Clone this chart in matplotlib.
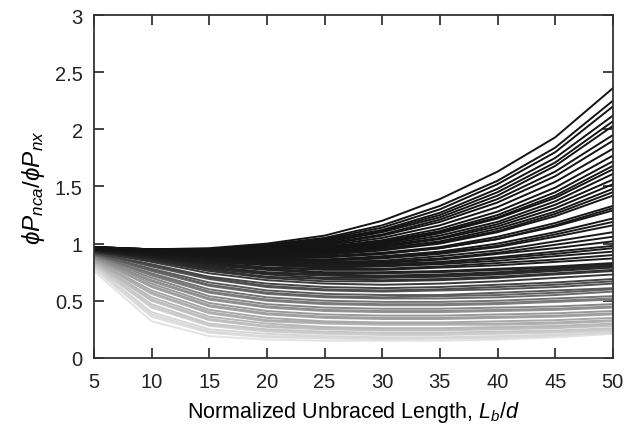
import matplotlib
matplotlib.use("Agg")
import matplotlib.pyplot as plt

plt.rcParams["font.family"] = ["Liberation Sans", "DejaVu Sans"]
plt.rcParams["mathtext.fontset"] = "custom"
plt.rcParams["mathtext.rm"] = "Liberation Sans"
plt.rcParams["mathtext.it"] = "Liberation Sans:italic"

lb_d = [5, 10, 15, 20, 25, 30, 35, 40, 45, 50]

# curves, top (black) to bottom (light gray)
dark_curves = [
    [0.97, 0.95, 0.96, 1.00, 1.07, 1.20, 1.39, 1.63, 1.93, 2.36],
    [0.97, 0.95, 0.95, 0.99, 1.05, 1.16, 1.33, 1.55, 1.84, 2.25],
    [0.97, 0.95, 0.95, 0.98, 1.04, 1.14, 1.30, 1.52, 1.80, 2.20],
    [0.97, 0.95, 0.95, 0.98, 1.03, 1.12, 1.27, 1.48, 1.75, 2.12],
    [0.97, 0.95, 0.94, 0.97, 1.02, 1.11, 1.25, 1.45, 1.71, 2.07],
    [0.97, 0.94, 0.94, 0.96, 1.01, 1.10, 1.23, 1.42, 1.68, 2.03],
    [0.96, 0.94, 0.93, 0.95, 1.00, 1.08, 1.21, 1.39, 1.63, 1.95],
    [0.96, 0.94, 0.93, 0.95, 0.99, 1.07, 1.19, 1.36, 1.59, 1.90],
    [0.96, 0.94, 0.93, 0.94, 0.98, 1.05, 1.16, 1.32, 1.54, 1.83],
    [0.96, 0.94, 0.92, 0.93, 0.97, 1.03, 1.13, 1.28, 1.49, 1.77],
    [0.96, 0.93, 0.92, 0.93, 0.96, 1.02, 1.11, 1.25, 1.45, 1.72],
    [0.96, 0.93, 0.92, 0.92, 0.95, 1.01, 1.10, 1.23, 1.42, 1.68],
    [0.96, 0.93, 0.91, 0.92, 0.95, 1.00, 1.09, 1.22, 1.40, 1.65],
    [0.96, 0.93, 0.91, 0.91, 0.94, 0.99, 1.07, 1.19, 1.37, 1.61],
    [0.96, 0.93, 0.90, 0.90, 0.93, 0.98, 1.05, 1.17, 1.34, 1.56],
    [0.96, 0.93, 0.90, 0.90, 0.92, 0.97, 1.04, 1.15, 1.31, 1.52],
    [0.96, 0.92, 0.90, 0.89, 0.91, 0.96, 1.02, 1.13, 1.28, 1.48],
    [0.96, 0.92, 0.89, 0.89, 0.91, 0.95, 1.01, 1.11, 1.26, 1.45],
    [0.96, 0.92, 0.89, 0.88, 0.90, 0.94, 1.00, 1.10, 1.24, 1.42],
    [0.95, 0.92, 0.89, 0.87, 0.89, 0.92, 0.97, 1.06, 1.18, 1.33],
    [0.95, 0.92, 0.88, 0.87, 0.88, 0.91, 0.96, 1.04, 1.16, 1.31],
    [0.95, 0.92, 0.88, 0.87, 0.88, 0.91, 0.96, 1.04, 1.15, 1.29],
    [0.95, 0.91, 0.88, 0.86, 0.86, 0.89, 0.93, 1.00, 1.10, 1.22],
    [0.95, 0.91, 0.87, 0.86, 0.86, 0.88, 0.92, 0.98, 1.08, 1.19],
    [0.95, 0.91, 0.87, 0.85, 0.85, 0.87, 0.91, 0.97, 1.06, 1.16],
    [0.95, 0.91, 0.86, 0.84, 0.84, 0.85, 0.89, 0.94, 1.02, 1.10],
    [0.95, 0.91, 0.86, 0.84, 0.83, 0.84, 0.87, 0.92, 0.99, 1.06],
    [0.95, 0.90, 0.86, 0.83, 0.82, 0.83, 0.86, 0.91, 0.96, 1.02],
    [0.95, 0.90, 0.85, 0.82, 0.81, 0.82, 0.84, 0.88, 0.93, 0.98],
    [0.95, 0.90, 0.85, 0.82, 0.80, 0.81, 0.83, 0.87, 0.91, 0.96],
    [0.95, 0.89, 0.84, 0.81, 0.79, 0.80, 0.82, 0.85, 0.89, 0.93],
    [0.94, 0.89, 0.83, 0.79, 0.78, 0.78, 0.80, 0.83, 0.86, 0.90],
    [0.94, 0.89, 0.83, 0.79, 0.77, 0.77, 0.79, 0.81, 0.84, 0.87],
    [0.94, 0.88, 0.82, 0.78, 0.75, 0.75, 0.76, 0.78, 0.80, 0.83],
    [0.94, 0.88, 0.81, 0.77, 0.74, 0.74, 0.75, 0.77, 0.79, 0.82],
    [0.94, 0.87, 0.80, 0.75, 0.73, 0.72, 0.73, 0.75, 0.78, 0.81],
    [0.94, 0.87, 0.79, 0.74, 0.72, 0.71, 0.72, 0.74, 0.77, 0.80],
    [0.94, 0.86, 0.78, 0.73, 0.70, 0.70, 0.71, 0.73, 0.76, 0.79],
    [0.93, 0.85, 0.77, 0.71, 0.69, 0.68, 0.69, 0.71, 0.74, 0.77],
    [0.93, 0.85, 0.76, 0.70, 0.67, 0.67, 0.68, 0.70, 0.73, 0.76],
    [0.93, 0.84, 0.74, 0.68, 0.65, 0.64, 0.65, 0.67, 0.70, 0.73],
]
dark_shades = [0.08, 0.08, 0.08, 0.08, 0.08, 0.08, 0.08, 0.08, 0.08, 0.08,
               0.08, 0.08, 0.08, 0.08, 0.08, 0.08, 0.09, 0.09, 0.09, 0.09,
               0.09, 0.09, 0.09, 0.10, 0.10, 0.10, 0.10, 0.10, 0.11, 0.11,
               0.11, 0.12, 0.12, 0.13, 0.14, 0.15, 0.16, 0.17, 0.19, 0.21,
               0.23]

light_curves = [
    [0.92, 0.82, 0.71, 0.65, 0.62, 0.61, 0.62, 0.64, 0.66, 0.69],
    [0.92, 0.81, 0.70, 0.63, 0.60, 0.59, 0.60, 0.62, 0.64, 0.67],
    [0.92, 0.80, 0.69, 0.62, 0.59, 0.58, 0.59, 0.60, 0.62, 0.65],
    [0.91, 0.78, 0.66, 0.59, 0.56, 0.55, 0.55, 0.57, 0.59, 0.61],
    [0.91, 0.77, 0.64, 0.57, 0.54, 0.53, 0.54, 0.55, 0.57, 0.60],
    [0.91, 0.76, 0.63, 0.56, 0.53, 0.52, 0.52, 0.53, 0.55, 0.58],
    [0.90, 0.74, 0.60, 0.53, 0.50, 0.49, 0.49, 0.50, 0.52, 0.54],
    [0.90, 0.73, 0.58, 0.51, 0.48, 0.47, 0.47, 0.48, 0.50, 0.52],
    [0.90, 0.72, 0.57, 0.50, 0.47, 0.46, 0.46, 0.47, 0.49, 0.51],
    [0.89, 0.70, 0.54, 0.47, 0.44, 0.43, 0.43, 0.44, 0.45, 0.47],
    [0.88, 0.68, 0.52, 0.45, 0.42, 0.41, 0.41, 0.42, 0.43, 0.45],
    [0.88, 0.67, 0.51, 0.44, 0.41, 0.40, 0.40, 0.41, 0.42, 0.44],
    [0.88, 0.65, 0.48, 0.41, 0.38, 0.37, 0.37, 0.38, 0.39, 0.41],
    [0.87, 0.63, 0.46, 0.39, 0.36, 0.35, 0.35, 0.36, 0.37, 0.39],
    [0.87, 0.62, 0.45, 0.38, 0.35, 0.34, 0.34, 0.35, 0.36, 0.38],
    [0.86, 0.59, 0.42, 0.35, 0.32, 0.31, 0.31, 0.32, 0.33, 0.35],
    [0.85, 0.57, 0.40, 0.33, 0.31, 0.30, 0.30, 0.30, 0.31, 0.33],
    [0.85, 0.56, 0.39, 0.32, 0.30, 0.29, 0.29, 0.29, 0.30, 0.32],
    [0.84, 0.53, 0.36, 0.30, 0.27, 0.26, 0.26, 0.27, 0.28, 0.30],
    [0.83, 0.51, 0.34, 0.28, 0.26, 0.25, 0.25, 0.26, 0.27, 0.29],
    [0.83, 0.50, 0.33, 0.27, 0.25, 0.24, 0.24, 0.25, 0.26, 0.28],
    [0.82, 0.47, 0.30, 0.25, 0.23, 0.22, 0.22, 0.23, 0.24, 0.26],
    [0.81, 0.45, 0.29, 0.24, 0.22, 0.21, 0.21, 0.22, 0.23, 0.25],
    [0.81, 0.44, 0.28, 0.23, 0.21, 0.20, 0.20, 0.21, 0.22, 0.24],
    [0.80, 0.40, 0.25, 0.21, 0.19, 0.18, 0.18, 0.19, 0.20, 0.23],
    [0.79, 0.38, 0.23, 0.19, 0.18, 0.17, 0.17, 0.18, 0.20, 0.22],
    [0.78, 0.36, 0.22, 0.18, 0.17, 0.16, 0.17, 0.17, 0.19, 0.22],
    [0.76, 0.32, 0.19, 0.16, 0.15, 0.15, 0.15, 0.16, 0.18, 0.21],
]
light_shades = [0.27, 0.30, 0.33, 0.36, 0.39, 0.42, 0.45, 0.48, 0.50, 0.53,
                0.56, 0.58, 0.60, 0.62, 0.64, 0.66, 0.68, 0.70, 0.72, 0.74,
                0.76, 0.78, 0.80, 0.82, 0.84, 0.85, 0.87, 0.89]

x_ticks = [5, 10, 15, 20, 25, 30, 35, 40, 45, 50]
y_ticks = [0, 0.5, 1, 1.5, 2, 2.5, 3]
y_tick_labels = ["0", "0.5", "1", "1.5", "2", "2.5", "3"]

fig = plt.figure(figsize=(6.26, 4.35), dpi=100)
ax = fig.add_axes([0.150, 0.175, 0.829, 0.788])

# lightest first so the dark curves sit on top
for ys, s in reversed(list(zip(light_curves, light_shades))):
    ax.plot(lb_d, ys, color=str(s), linewidth=1.4)
for ys, s in reversed(list(zip(dark_curves, dark_shades))):
    ax.plot(lb_d, ys, color=str(s), linewidth=1.4)

ax.set_xlim(5, 50)
ax.set_ylim(0, 3)
ax.set_xticks(x_ticks)
ax.set_yticks(y_ticks)
ax.set_yticklabels(y_tick_labels)
ax.tick_params(direction="in", length=7, width=1.2, top=True, right=True,
               labelsize=14.5, colors="#222222")
ax.tick_params(axis="x", pad=10)
ax.tick_params(axis="y", pad=8)
for sp in ax.spines.values():
    sp.set_linewidth(1.3)
    sp.set_color("#333333")

ax.set_xlabel(r"Normalized Unbraced Length, $L_b/d$", fontsize=15.5, labelpad=6)
ax.set_ylabel(r"$\phi P_{nca}/\phi P_{nx}$", fontsize=17.5, labelpad=6)

fig.savefig("out.png", dpi=100)
